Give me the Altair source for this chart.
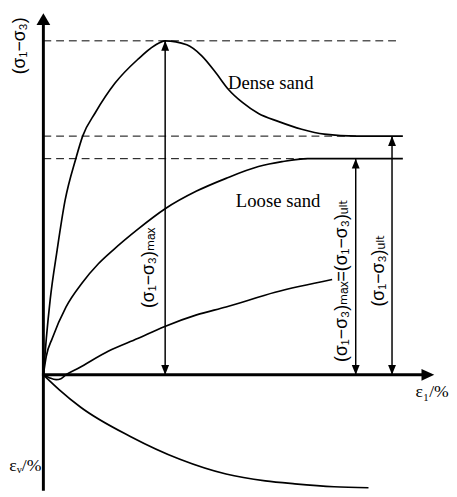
import altair as alt
import pandas as pd

# ---- data (strain eps1 in %, deviator stress in relative units, peak = 100)
dense_eps = [0, 0.082, 0.191, 0.383, 0.601, 0.902, 1.093, 1.448, 1.995, 2.623, 3.087, 3.388,
             3.989, 4.399, 4.809, 5.137, 5.546, 5.984, 6.530, 7.186, 7.814, 8.716, 10.0]
dense_q = [0, 10.88, 22.65, 37.35, 52.06, 64.71, 71.47, 78.53, 87.35, 94.41, 98.53, 100,
           98.82, 95.59, 90.29, 85.59, 81.47, 78.24, 75.88, 73.53, 72.06, 71.47, 71.47]

loose_eps = [0, 0.082, 0.246, 0.628, 1.066, 1.530, 1.940, 2.623, 3.388, 4.262, 5.082, 5.984,
             6.639, 7.350, 10.0]
loose_q = [0, 5.59, 10.88, 20.29, 27.35, 33.24, 37.35, 43.53, 49.71, 55.0, 58.82, 62.35,
           63.82, 64.71, 64.71]

dense_vol_eps = [0, 0.164, 0.355, 0.49, 0.628, 0.984, 1.803, 2.623, 3.361, 4.262, 5.082, 6.448, 8.033]
dense_vol = [0, -0.88, -1.47, -1.18, 0, 2.06, 7.06, 10.88, 14.41, 17.94, 20.29, 24.71, 28.53]

loose_vol_eps = [0, 0.437, 1.038, 2.432, 3.798, 5.082, 6.175, 6.995, 8.087, 9.044]
loose_vol = [0, -4.41, -9.71, -18.53, -25.29, -29.71, -31.76, -32.65, -33.53, -33.82]

q_max = 100
q_ult_dense = 71.47
q_ult_loose = 64.71
eps_peak = 3.388
eps_ult_loose_arrow = 8.689
eps_ult_dense_arrow = 9.699

X_DOMAIN = [-0.984, 11.284]
Y_DOMAIN = [-35.294, 108.529]

xs = alt.Scale(domain=X_DOMAIN, nice=False, zero=False)
ys = alt.Scale(domain=Y_DOMAIN, nice=False, zero=False)


def X(f="e"):
    return alt.X(f"{f}:Q", scale=xs, axis=None)


def Y(f="q"):
    return alt.Y(f"{f}:Q", scale=ys, axis=None)


rows = []
for name, ex, qy in [("dense", dense_eps, dense_q), ("loose", loose_eps, loose_q),
                     ("dense_vol", dense_vol_eps, dense_vol), ("loose_vol", loose_vol_eps, loose_vol)]:
    for i, (a, b) in enumerate(zip(ex, qy)):
        rows.append({"e": a, "q": b, "curve": name, "o": i})
curves_df = pd.DataFrame(rows)

curves = alt.Chart(curves_df).mark_line(color="black", strokeWidth=1.7, interpolate="monotone").encode(
    x=X(), y=Y(), detail="curve:N", order="o:Q")

dash_df = pd.DataFrame({"q": [q_max, q_ult_dense, q_ult_loose], "e0": [0, 0, 0], "e1": [9.918, 8.7, 7.35]})
dashes = alt.Chart(dash_df).mark_rule(color="black", strokeWidth=1, strokeDash=[8, 5]).encode(
    x=X("e0"), x2="e1", y=Y())

dim_df = pd.DataFrame({"e": [eps_peak, eps_ult_loose_arrow, eps_ult_dense_arrow],
                       "q0": [0, 0, 0], "q": [q_max, q_ult_loose, q_ult_dense]})
dims = alt.Chart(dim_df).mark_rule(color="black", strokeWidth=1.5).encode(x=X(), y=Y("q0"), y2="q")
heads_up = alt.Chart(dim_df).mark_point(shape="M0,0L-1,2.5L1,2.5Z", filled=True, size=64, color="black",
                                         opacity=1, strokeWidth=0).encode(x=X(), y=Y())
heads_down = alt.Chart(dim_df).mark_point(shape="M0,0L-1,-2.5L1,-2.5Z", filled=True, size=64, color="black",
                                           opacity=1, strokeWidth=0).encode(x=X(), y=Y("q0"))

axes_df = pd.DataFrame({"e": [0, -0.04], "e2": [0, 10.6], "q": [-34.7, 0], "q2": [105, 0]})
axes = alt.Chart(axes_df).mark_rule(color="black", strokeWidth=3).encode(
    x=X(), x2="e2", y=Y(), y2="q2")

yarrow_df = pd.DataFrame({"e": [0], "q": [108.24]})
yarrow = alt.Chart(yarrow_df).mark_point(shape="M0,0L-1,1.714L1,1.714Z", filled=True, size=196,
                                         color="black", opacity=1, strokeWidth=0).encode(x=X(), y=Y())
xarrow_df = pd.DataFrame({"e": [10.874], "q": [0]})
xarrow = alt.Chart(xarrow_df).mark_point(shape="M0,0L-2.167,-1L-2.167,1Z", filled=True, size=144,
                                         color="black", opacity=1, strokeWidth=0).encode(x=X(), y=Y())

# rotated sans labels
rot_df = pd.DataFrame({
    "e": [-0.656, 2.951, 8.306, 9.344],
    "q": [98.5, 32.0, 28.2, 31.2],
    "t": ["(σ₁−σ₃)", "(σ₁−σ₃)ₘₐₓ", "(σ₁−σ₃)ₘₐₓ=(σ₁−σ₃)ᵤₗₜ", "(σ₁−σ₃)ᵤₗₜ"],
})
rot_text = alt.Chart(rot_df).mark_text(angle=270, align="center", baseline="middle", fontSize=18,
                                       font="Liberation Sans, DejaVu Sans", color="black").encode(
    x=X(), y=Y(), text="t:N")

serif_df = pd.DataFrame({
    "e": [5.137, 5.355, 10.355, -0.95],
    "q": [87.35, 52.06, -5.29, -27.35],
    "t": ["Dense sand", "Loose sand", "ε₁/%", "εᵥ/%"],
    "s": [19, 19, 18, 18],
})
serif_text = alt.Chart(serif_df).mark_text(align="left", baseline="middle",
                                           font="Liberation Serif, DejaVu Serif", color="black").encode(
    x=X(), y=Y(), text="t:N", size=alt.Size("s:Q", scale=None, legend=None))

chart = alt.layer(dashes, curves, dims, heads_up, heads_down, axes, yarrow, xarrow, rot_text, serif_text).properties(
    width=449, height=489, autosize=alt.AutoSizeParams(type="none"), padding=0, background="white"
).configure_view(stroke=None)

chart.save("out.html", embed_options={"renderer": "svg", "actions": False})
